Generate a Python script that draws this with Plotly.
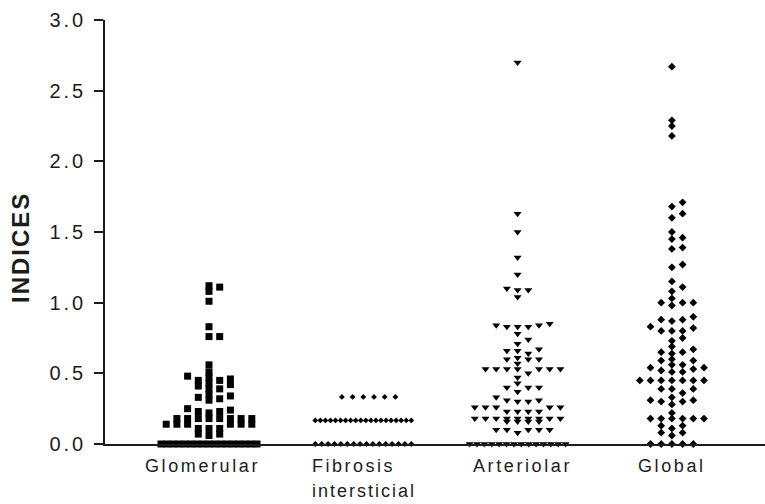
import plotly.graph_objects as go

# ---- data -------------------------------------------------------------
categories = ["Glomerular", "Fibrosis", "Arteriolar", "Global"]
category_labels = ["Glomerular", "Fibrosis<br>intersticial", "Arteriolar", "Global"]

glomerular = [1.12, 1.11, 1.08, 1.01,
              0.83, 0.76, 0.76,
              0.56, 0.51,
              0.48, 0.47, 0.46,
              0.45, 0.45, 0.43, 0.42, 0.41, 0.39, 0.39,
              0.35, 0.34, 0.33, 0.32, 0.31,
              0.25,
              0.24, 0.23, 0.23, 0.22,
              0.18, 0.18, 0.18, 0.18, 0.18, 0.18, 0.18, 0.18,
              0.14, 0.14, 0.14, 0.14, 0.14, 0.14,
              0.11, 0.11, 0.11,
              0.07, 0.07, 0.06,
              0, 0, 0, 0, 0, 0, 0, 0, 0, 0, 0, 0, 0, 0, 0, 0, 0]

fibrosis = [0.333] * 6 + [0.167] * 20 + [0.0] * 16

arteriolar = [2.70,
              1.63, 1.50, 1.32, 1.20,
              1.10, 1.09, 1.09, 1.04,
              0.85, 0.84, 0.84, 0.83, 0.83, 0.83,
              0.78, 0.74, 0.71,
              0.67, 0.66, 0.66, 0.64,
              0.61, 0.60, 0.60, 0.60,
              0.57,
              0.53, 0.53, 0.53, 0.53, 0.53, 0.53, 0.53,
              0.50, 0.47,
              0.43, 0.40, 0.40, 0.40,
              0.37, 0.33,
              0.31, 0.31, 0.30, 0.30,
              0.26, 0.26, 0.26, 0.26, 0.26,
              0.23, 0.23, 0.23, 0.23,
              0.18, 0.18, 0.18, 0.18, 0.18, 0.18, 0.18, 0.18, 0.18,
              0.16, 0.16, 0.16, 0.16,
              0.10, 0.10, 0.10, 0.10, 0.10,
              0.08,
              0, 0, 0, 0, 0, 0, 0, 0, 0, 0, 0, 0, 0, 0]

global_index = [2.67, 2.29, 2.25, 2.18,
                1.71, 1.68, 1.63, 1.60,
                1.50, 1.46, 1.45,
                1.39, 1.38,
                1.27, 1.25,
                1.15,
                1.11, 1.08,
                1.03, 1.00, 1.00, 1.00, 0.98,
                0.90, 0.88, 0.88, 0.87,
                0.83, 0.82, 0.80, 0.80, 0.80,
                0.75, 0.73,
                0.69, 0.67, 0.65, 0.65,
                0.64,
                0.60, 0.59, 0.59,
                0.56, 0.56, 0.54, 0.54, 0.53, 0.52, 0.51, 0.51,
                0.45, 0.45, 0.45, 0.45, 0.45, 0.45, 0.45,
                0.39, 0.39, 0.39, 0.36,
                0.33, 0.31, 0.31, 0.30, 0.30, 0.28,
                0.22,
                0.18, 0.18, 0.18, 0.18, 0.18, 0.18,
                0.13, 0.13,
                0.11, 0.08, 0.08,
                0.06,
                0, 0, 0, 0, 0]

y_ticks = [0.0, 0.5, 1.0, 1.5, 2.0, 2.5, 3.0]

# ---- layout constants (pixels) -----------------------------------------
W, H = 765, 504
M_L, M_R, M_T, M_B = 105, 0, 20, 60
PLOT_W = W - M_L - M_R
PLOT_H = H - M_T - M_B
Y_MAX = 3.0
PX_PER_Y = PLOT_H / Y_MAX
PX_PER_CAT = 154.3          # distance between column centres
FIRST_CENTER_PX = 209 - M_L # first column centre, from the plot's left edge
SLOT_PX = 10.7              # horizontal step between neighbouring dots
MAX_SLOTS = 4               # slots on each side of the centre
COLL_X, COLL_Y = 9.0, 5.0   # two dots closer than this in both axes collide
MAX_ROW_PX = 96.0           # width of a compressed row of equal values

FONT = "Liberation Sans, Arial, sans-serif"
INK = "#1c1c1c"


def slot_order(limit):
    yield 0
    for k in range(1, limit + 1):
        yield k
        yield -k


def swarm(values):
    """Prism-style column scatter on a fixed horizontal grid: each value takes
    the grid slot nearest the centre that is still free at its height; long
    runs of equal values are squeezed into one evenly spaced row."""
    vals = sorted(values)
    groups = []
    for v in vals:
        if groups and abs(v - groups[-1][0]) * PX_PER_Y < 1.0:
            groups[-1].append(v)
        else:
            groups.append([v])
    placed, xs, ys = [], [], []

    def clashes(x, y):
        return sum(1 for px, py in placed
                   if abs(x - px) < COLL_X and abs(y - py) < COLL_Y)

    for g in groups:
        n = len(g)
        if n > 2 * MAX_SLOTS + 1:
            step = MAX_ROW_PX / (n - 1)
            for j, v in enumerate(g):
                x = (j - (n - 1) / 2) * step
                placed.append((x, v * PX_PER_Y))
                xs.append(x)
                ys.append(v)
            continue
        for v in g:
            y = v * PX_PER_Y
            best, best_c = 0, None
            for s in slot_order(MAX_SLOTS):
                c = clashes(s * SLOT_PX, y)
                if c == 0:
                    best = s
                    break
                if best_c is None or c < best_c:
                    best, best_c = s, c
            x = best * SLOT_PX
            placed.append((x, y))
            xs.append(x)
            ys.append(v)
    return [x / PX_PER_CAT for x in xs], ys


series = [
    (glomerular, "square", 7),
    (fibrosis, "diamond", 4.5),
    (arteriolar, "triangle-down", 7),
    (global_index, "diamond", 6),
]

fig = go.Figure()
for i, (vals, symbol, size) in enumerate(series):
    dx, ys = swarm(vals)
    fig.add_trace(go.Scatter(
        x=[i + d for d in dx], y=ys, mode="markers",
        marker=dict(symbol=symbol, size=size, color="black",
                    line=dict(width=0)),
        name=categories[i], cliponaxis=False, hoverinfo="y",
    ))

x0 = -FIRST_CENTER_PX / PX_PER_CAT
x1 = x0 + PLOT_W / PX_PER_CAT


def spaced(text, px):
    return f'<span style="letter-spacing:{px}px">{text}</span>'


# category labels under the axis
annotations = []
label_font = dict(family=FONT, size=18, color=INK)
for i, lab in enumerate(category_labels):
    if i == 1:
        first, second = lab.split("<br>")
        left = i - 53 / PX_PER_CAT
        annotations.append(dict(x=left, y=0, xref="x", yref="paper",
                                xanchor="left", yanchor="top", yshift=-10,
                                text=spaced(first, 2.5), showarrow=False,
                                font=label_font))
        annotations.append(dict(x=left, y=0, xref="x", yref="paper",
                                xanchor="left", yanchor="top", yshift=-35,
                                text=spaced(second, 2), showarrow=False,
                                font=label_font))
    else:
        shift = {0: -7, 2: 5, 3: 0}[i]
        annotations.append(dict(x=i + shift / PX_PER_CAT, y=0, xref="x",
                                yref="paper", xanchor="center",
                                yanchor="top", yshift=-10,
                                text=spaced(lab, 2.6), showarrow=False,
                                font=label_font))

# y axis title
annotations.append(dict(x=(20 - M_L) / PLOT_W, y=(PLOT_H - (248 - M_T)) / PLOT_H,
                        xref="paper", yref="paper", xanchor="center",
                        yanchor="middle", textangle=-90,
                        text="<b>" + spaced("INDICES", 2) + "</b>",
                        showarrow=False,
                        font=dict(family=FONT, size=24, color=INK)))

fig.update_layout(
    width=W, height=H,
    margin=dict(l=M_L, r=M_R, t=M_T, b=M_B, pad=0),
    paper_bgcolor="white", plot_bgcolor="white",
    showlegend=False,
    annotations=annotations,
    xaxis=dict(range=[x0, x1], showgrid=False, zeroline=False,
               showline=True, linecolor=INK, linewidth=1.5,
               ticks="", showticklabels=False, fixedrange=True),
    yaxis=dict(range=[0, Y_MAX], showgrid=False, zeroline=False,
               showline=True, linecolor=INK, linewidth=1.5,
               ticks="outside", ticklen=9, tickwidth=1.5, tickcolor=INK,
               tickvals=y_ticks,
               ticktext=[spaced(f"{t:.1f}", 3) for t in y_ticks],
               tickfont=dict(family=FONT, size=20, color=INK),
               ticklabelstandoff=4, fixedrange=True),
)

fig.write_html("out.html")
